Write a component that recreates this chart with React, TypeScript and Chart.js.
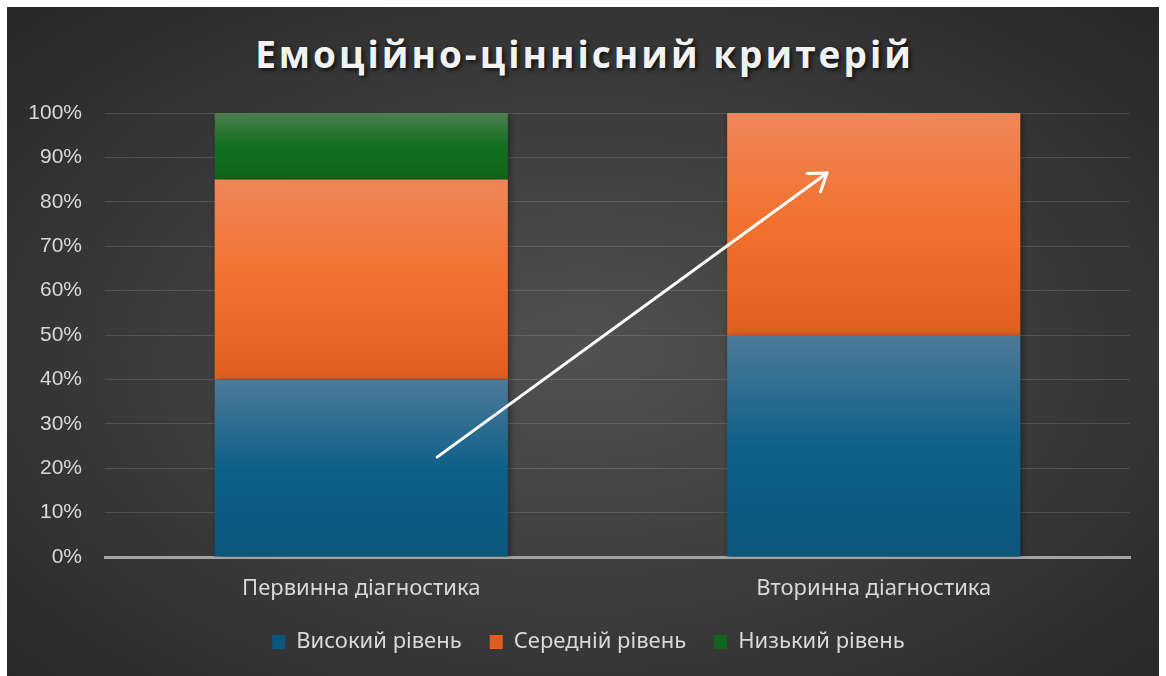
import React, { useEffect, useRef } from "react";
import { Chart, registerables } from "chart.js";

Chart.register(...registerables);

const chartTitle = "Емоційно-ціннісний критерій";
const categories = ["Первинна діагностика", "Вторинна діагностика"];
const seriesNames = ["Високий рівень", "Середній рівень", "Низький рівень"];
const highLevel = [40, 50];
const middleLevel = [45, 50];
const lowLevel = [15, 0];
const seriesValues = [highLevel, middleLevel, lowLevel];
const yTicks = [0, 10, 20, 30, 40, 50, 60, 70, 80, 90, 100];
// arrow annotation in data units (category index, percent)
const arrowFrom = { x: 0.148, y: 22.5 };
const arrowTo = { x: 0.909, y: 86.5 };

const palette = [
  { solid: "#1a6890", stops: ["#4d7a99", "#0f6088", "#0b567d"] },
  { solid: "#f07434", stops: ["#ef865a", "#f2712e", "#e15f1c"] },
  { solid: "#1f7a2b", stops: ["#4b7d50", "#12701f", "#0e651b"] },
];

const W = 1152;
const H = 669;
const LEGEND_PAD = 28;
const LABEL_FONT = "'Noto Sans', 'Open Sans', sans-serif";

export default function App() {
  const canvasRef = useRef<HTMLCanvasElement | null>(null);

  useEffect(() => {
    const canvas = canvasRef.current;
    if (!canvas) return;

    const makeBg = (di: number) => (ctx: any) => {
      const p = palette[di];
      if (ctx.type !== "data") return p.solid;
      const chart = ctx.chart;
      const y = chart.scales?.y;
      if (!chart.chartArea || !y) return p.solid;
      const i = ctx.dataIndex;
      let base = 0;
      for (let d = 0; d < di; d++) base += seriesValues[d][i];
      const top = base + seriesValues[di][i];
      const y0 = y.getPixelForValue(top);
      const y1 = y.getPixelForValue(base);
      if (!isFinite(y0) || !isFinite(y1) || y1 - y0 < 1) return p.solid;
      const g = chart.ctx.createLinearGradient(0, y0, 0, y1);
      g.addColorStop(0, p.stops[0]);
      g.addColorStop(0.5, p.stops[1]);
      g.addColorStop(1, p.stops[2]);
      return g;
    };

    const decor = {
      id: "decor",
      beforeDatasetsDraw(chart: any) {
        const c = chart.ctx;
        c.save();
        c.shadowColor = "rgba(0,0,0,0.45)";
        c.shadowBlur = 7;
        c.shadowOffsetX = 2;
        c.shadowOffsetY = 2;
      },
      afterDatasetsDraw(chart: any) {
        const c = chart.ctx;
        c.restore();
        const xs = chart.scales.x;
        const ys = chart.scales.y;
        const x0 = xs.getPixelForValue(arrowFrom.x);
        const y0 = ys.getPixelForValue(arrowFrom.y);
        const x1 = xs.getPixelForValue(arrowTo.x);
        const y1 = ys.getPixelForValue(arrowTo.y);
        const ang = Math.atan2(y1 - y0, x1 - x0);
        const head = 20;
        const spread = Math.PI / 5.2;
        c.save();
        c.strokeStyle = "#ffffff";
        c.lineWidth = 3;
        c.lineCap = "round";
        c.lineJoin = "round";
        c.beginPath();
        c.moveTo(x0, y0);
        c.lineTo(x1, y1);
        c.stroke();
        c.beginPath();
        c.moveTo(x1 - head * Math.cos(ang - spread), y1 - head * Math.sin(ang - spread));
        c.lineTo(x1, y1);
        c.lineTo(x1 - head * Math.cos(ang + spread), y1 - head * Math.sin(ang + spread));
        c.stroke();
        c.restore();
      },
    };

    const chart = new Chart(canvas, {
      type: "bar",
      data: {
        labels: categories,
        datasets: seriesNames.map((name, di) => ({
          label: name,
          data: seriesValues[di],
          backgroundColor: makeBg(di),
          borderWidth: 0,
          barPercentage: 0.572,
          categoryPercentage: 1,
          yAxisID: "y",
        })),
      },
      options: {
        responsive: false,
        animation: false,
        devicePixelRatio: 1,
        layout: { padding: { top: 106, right: 8, bottom: 13, left: 19 } },
        plugins: {
          title: { display: false },
          tooltip: { enabled: false },
          legend: {
            position: "bottom",
            labels: {
              color: "#d9d9d9",
              font: { family: LABEL_FONT, size: 22 },
              boxWidth: 13,
              boxHeight: 14,
              padding: LEGEND_PAD,
            },
          },
        },
        scales: {
          x: {
            stacked: true,
            z: 1,
            grid: { display: false, drawTicks: false },
            border: { display: true, color: "#a3a3a3", width: 3 },
            ticks: {
              color: "#d9d9d9",
              font: { family: LABEL_FONT, size: 22 },
              padding: 19,
              maxRotation: 0,
            },
            afterFit(scale: any) {
              scale.height = 46;
            },
          },
          y: {
            stacked: true,
            min: 0,
            max: 100,
            afterBuildTicks(scale: any) {
              scale.ticks = yTicks.map((v) => ({ value: v }));
            },
            grid: { color: "rgba(255,255,255,0.13)", lineWidth: 1, drawTicks: false },
            border: { display: false },
            ticks: {
              color: "#d9d9d9",
              font: { family: "'Liberation Sans', Arial, sans-serif", size: 21 },
              padding: 23,
              callback: (v: any) => v + "%",
            },
            afterFit(scale: any) {
              scale.width = 79;
            },
          },
          // empty right-hand spacer so the bottom legend is centred like the reference
          spacer: {
            type: "linear",
            position: "right",
            display: true,
            grid: { display: false, drawTicks: false },
            border: { display: false },
            ticks: { display: false },
            afterFit(scale: any) {
              scale.width = 21;
            },
          },
        },
      },
      plugins: [decor],
    });

    return () => chart.destroy();
  }, []);

  return (
    <div
      style={{
        position: "absolute",
        left: 7,
        top: 7,
        width: W,
        height: H,
        overflow: "hidden",
        background: "radial-gradient(ellipse at 50% 52%, #515151 0%, #3c3c3c 50%, #272727 100%)",
      }}
    >
      <div
        style={{
          position: "absolute",
          left: 0,
          top: 22,
          width: W,
          textAlign: "center",
          fontFamily: "'Open Sans', sans-serif",
          fontWeight: 700,
          fontSize: 37,
          lineHeight: "50px",
          letterSpacing: 3,
          paddingLeft: 3,
          boxSizing: "border-box",
          color: "#f2f2f2",
          textShadow: "2px 2px 4px rgba(0,0,0,0.75)",
        }}
      >
        {chartTitle}
      </div>
      <canvas ref={canvasRef} width={W} height={H} style={{ position: "absolute", left: 0, top: 0 }} />
    </div>
  );
}
